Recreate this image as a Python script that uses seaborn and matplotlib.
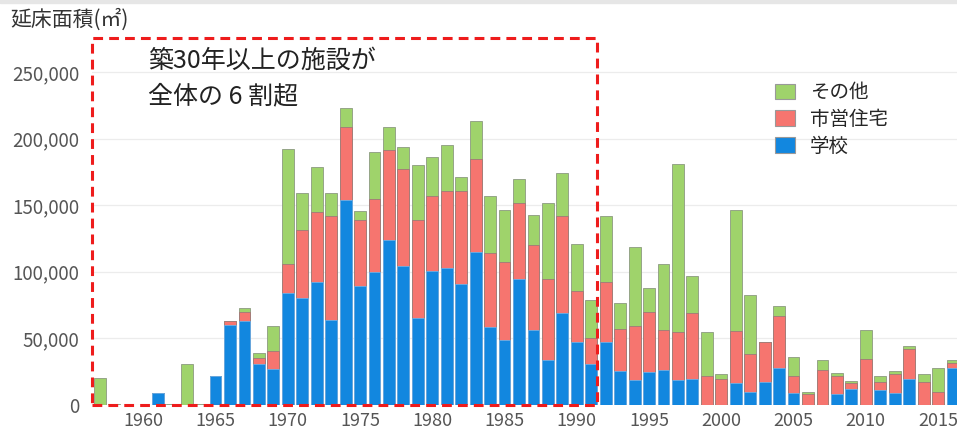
import numpy as np
import pandas as pd
import matplotlib
matplotlib.use("Agg")
import matplotlib.pyplot as plt
from matplotlib.patches import Patch, Rectangle
import seaborn as sns

# floor area (m2) by construction year
years = list(range(1957, 2017))
school = [
    0, 0, 0, 0, 9000, 0, 0, 0, 22000, 60000, 63000, 31000, 27000,
    84000, 80000, 92500, 64000, 154000, 89000, 100000, 123500, 104500, 65000,
    100500, 102500, 90500, 114500, 58500, 48500, 94500, 56500, 33500, 69000,
    47000, 31000, 47000, 25500, 18500, 24500, 26500, 18500, 19500, 0,
    0, 16500, 9500, 17000, 27500, 9000, 0, 0, 8500, 12000,
    0, 11000, 9000, 19500, 0, 0, 27500,
]
housing = [
    0, 0, 0, 0, 0, 0, 0, 0, 0, 3000, 7000, 4000, 13500,
    22000, 51000, 52500, 78000, 55000, 49500, 55000, 68000, 73000, 74000,
    56500, 58000, 70000, 70000, 55500, 58500, 57500, 63500, 61000, 73000,
    38500, 19500, 45000, 31500, 41000, 45000, 30000, 36000, 49500, 22000,
    19500, 39000, 29000, 30000, 39500, 13000, 8000, 26000, 13500, 4500,
    34500, 6000, 14500, 22500, 17000, 10000, 4000,
]
other = [
    20000, 1000, 0, 0, 0, 1000, 31000, 1000, 0, 0, 3000, 4000, 18500,
    86000, 28000, 34000, 17500, 14000, 7500, 35000, 17000, 16000, 41000,
    29000, 34500, 10500, 29000, 43000, 39500, 18000, 23000, 57000, 32500,
    35500, 28000, 50000, 19500, 59000, 18000, 49500, 126500, 27500, 33000,
    3500, 91000, 44000, 0, 7000, 14000, 1500, 7500, 2000, 1700,
    22000, 5000, 1700, 2000, 6000, 17500, 2000,
]
tick_years = list(range(1960, 2016, 5))
labels = ["その他", "市営住宅", "学校"]
colors = ["#9fd36b", "#f6756f", "#1287df"]

df = pd.DataFrame({"year": [str(y) for y in years],
                   "school": school, "housing": housing, "other": other})
df["mid"] = df["school"] + df["housing"]
df["total"] = df["mid"] + df["other"]
order = df["year"].tolist()

sns.set_style("white")
plt.rcParams["font.family"] = ["Noto Sans CJK JP", "DejaVu Sans"]

fig = plt.figure(figsize=(9.57, 4.37), dpi=100)
fig.patches.append(Rectangle((0, 1 - 3 / 437), 1, 3 / 437, transform=fig.transFigure,
                             color="#e6e6e6", zorder=0))
ax = fig.add_axes([92 / 957, 32 / 437, 865 / 957, 373 / 437])

# stacked look: draw cumulative totals on top of each other
for col, c, ec in zip(["total", "mid", "school"], colors, ["#8c9a80", "#a07a78", "#6aaee6"]):
    sns.barplot(data=df, x="year", y=col, order=order, color=c, saturation=1,
                width=0.82, edgecolor=ec, linewidth=0.6, ax=ax, zorder=3)

ax.set_ylim(0, 280000)
ax.set_xlim(-0.55, len(years) - 1 + 0.31)
ax.set_yticks(range(0, 250001, 50000))
ax.set_yticklabels([f"{v:,}" for v in range(0, 250001, 50000)])
ax.set_xticks([years.index(y) for y in tick_years])
ax.set_xticklabels([str(y) for y in tick_years])
ax.tick_params(axis="both", length=0, colors="#555555")
ax.tick_params(axis="x", pad=5, labelsize=13)
ax.tick_params(axis="y", pad=9, labelsize=13.5)
ax.set_xlabel("")
ax.set_ylabel("")
for s in ax.spines.values():
    s.set_visible(False)
ax.yaxis.grid(True, color="#ececec", linewidth=0.9, zorder=0)
ax.set_axisbelow(True)

# red dashed box around buildings 30+ years old
box = Rectangle((-0.55, 0), 34.38 + 0.55, 275500, fill=False, edgecolor="#ee1c1c",
                linewidth=2.2, linestyle=(0, (3.2, 2.0)), clip_on=False, zorder=5)
ax.add_patch(box)

fig.text(148 / 957, 1 - 61 / 437, "築30年以上の施設が", fontsize=18, color="#222222",
         va="center", ha="left")
fig.text(148 / 957, 1 - 96 / 437, "全体の 6 割超", fontsize=18, color="#222222",
         va="center", ha="left")
fig.text(10 / 957, 1 - 20 / 437, "延床面積(㎡)", fontsize=15, color="#333333",
         va="center", ha="left")

handles = [Patch(facecolor=c, edgecolor="#999999", linewidth=0.8) for c in colors]
fig.legend(handles, labels, loc="upper left", bbox_to_anchor=(775 / 957, 1 - 82 / 437),
           frameon=False, fontsize=14, handlelength=1.05, handleheight=0.85,
           handletextpad=0.75, labelspacing=0.3, borderaxespad=0, borderpad=0)

fig.savefig("out.png", dpi=100)
